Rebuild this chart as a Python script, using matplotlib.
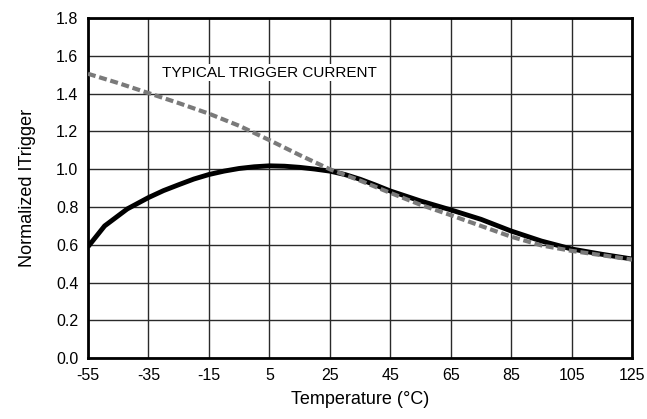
import matplotlib

matplotlib.use("Agg")
import matplotlib.pyplot as plt

plt.rcParams["font.family"] = ["Liberation Sans Narrow", "Liberation Sans", "DejaVu Sans"]
plt.rcParams["axes.unicode_minus"] = False

# values
temp_black = [-55, -49.5, -42, -35, -30, -25, -20, -15, -10, -5, 0, 5, 10, 15, 20, 25, 30, 35, 40,
              45, 55, 65, 75, 85, 95, 105, 115, 125]
itrig_black = [0.59, 0.70, 0.79, 0.85, 0.887, 0.918, 0.948, 0.972, 0.99, 1.004, 1.013, 1.018, 1.016,
               1.01, 1.001, 0.99, 0.972, 0.947, 0.917, 0.885, 0.832, 0.785, 0.735, 0.673, 0.62,
               0.578, 0.55, 0.525]

temp_gray = [-55, -45, -35, -25, -15, -5, 5, 15, 25, 35, 45, 55, 65, 75, 85, 95, 105, 115, 125]
itrig_gray = [1.505, 1.456, 1.403, 1.35, 1.294, 1.23, 1.154, 1.075, 1.00, 0.94, 0.875, 0.812, 0.757,
              0.70, 0.643, 0.597, 0.568, 0.545, 0.522]

xticks = [-55, -35, -15, 5, 25, 45, 65, 85, 105, 125]
yticks = [0.0, 0.2, 0.4, 0.6, 0.8, 1.0, 1.2, 1.4, 1.6, 1.8]

fig = plt.figure(figsize=(6.47, 4.19), dpi=100)
ax = fig.add_axes([0.136, 0.145, 0.841, 0.812])

ax.plot(temp_black, itrig_black, color="black", lw=3.5, solid_capstyle="butt",
        solid_joinstyle="round", zorder=3)
ax.plot(temp_gray, itrig_gray, color="#7a7a7a", lw=3, ls=(0, (1.9, 0.9)),
        dash_joinstyle="round", zorder=4)

ax.set_xlim(-55, 125)
ax.set_ylim(0, 1.8)
ax.set_xticks(xticks)
ax.set_yticks(yticks)
ax.set_yticklabels([f"{v:.1f}" for v in yticks])
ax.tick_params(length=0, labelsize=11.5, pad=7)
ax.grid(True, color="#2a2a2a", lw=1.0)
ax.set_axisbelow(True)
for s in ax.spines.values():
    s.set_linewidth(2)

ax.text(-30.5, 1.51, "TYPICAL TRIGGER CURRENT", fontsize=11, va="center", ha="left",
        bbox=dict(facecolor="white", edgecolor="none", pad=1), zorder=2)

ax.set_xlabel("Temperature (\u00b0C)", fontsize=13, labelpad=6)
ax.set_ylabel("Normalized ITrigger", fontsize=13, labelpad=14)

fig.savefig("out.png", dpi=100)
